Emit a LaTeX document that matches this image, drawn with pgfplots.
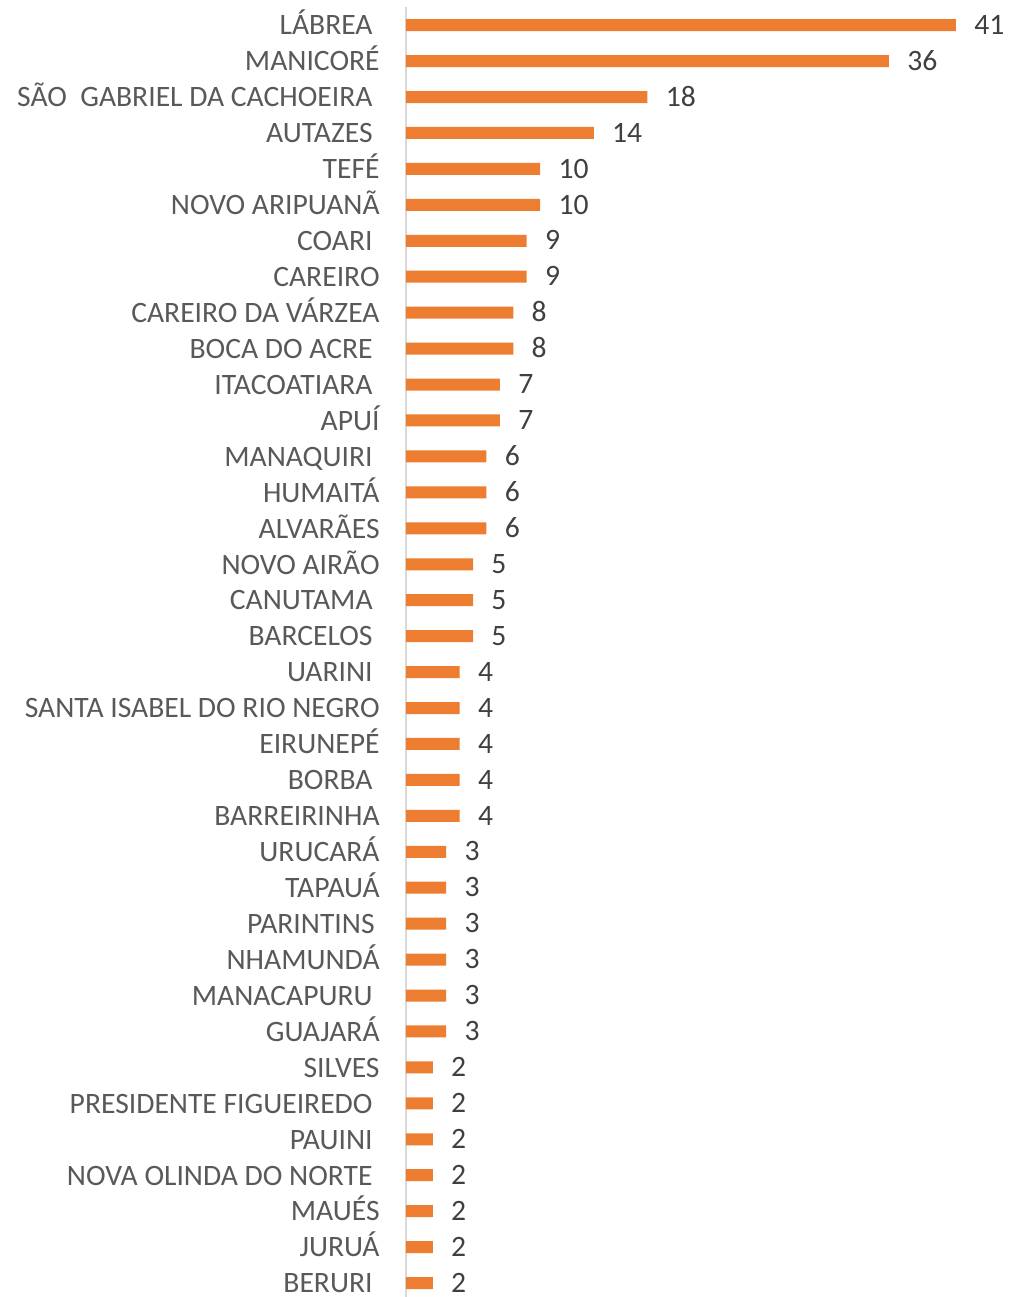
\documentclass[border=0pt]{standalone}
\usepackage{fontspec}
\setmainfont{Carlito}
\usepackage{pgfplots}
\pgfplotsset{compat=1.18}
\definecolor{barorange}{HTML}{ED7D31}
\definecolor{labgray}{HTML}{595959}
\definecolor{valgray}{HTML}{404040}
\definecolor{axgray}{HTML}{D9D9D9}
\newcommand{\tsp}{\hspace*{3.5pt}}
\begin{document}
\begin{tikzpicture}
\begin{axis}[
  scale only axis,
  width=275pt, height=646.9pt,
  xbar, bar width=6pt,
  xmin=0, xmax=41,
  ymin=-0.5, ymax=35.5,
  axis x line=none,
  axis y line=left,
  y axis line style={axgray, line width=0.75pt, -},
  major tick length=0pt,
  ytick={0,...,35},
  yticklabels={BERURI\tsp, JURUÁ, MAUÉS, NOVA OLINDA DO NORTE\tsp, PAUINI\tsp,
    PRESIDENTE FIGUEIREDO\tsp, SILVES, GUAJARÁ, MANACAPURU\tsp, NHAMUNDÁ,
    PARINTINS\hspace*{2.5pt}, TAPAUÁ, URUCARÁ, BARREIRINHA, BORBA\tsp, EIRUNEPÉ,
    SANTA ISABEL DO RIO NEGRO, UARINI\tsp, BARCELOS\tsp, CANUTAMA\tsp, NOVO AIRÃO,
    ALVARÃES, HUMAITÁ, MANAQUIRI\tsp, APUÍ, ITACOATIARA\tsp, BOCA DO ACRE\tsp,
    CAREIRO DA VÁRZEA, CAREIRO, COARI\tsp, NOVO ARIPUANÃ, TEFÉ, AUTAZES\tsp,
    SÃO\ \ GABRIEL DA CACHOEIRA\tsp, MANICORÉ, LÁBREA\tsp},
  yticklabel style={font=\fontsize{14.8}{17}\selectfont, text=labgray,
    anchor=base east, inner sep=0pt, xshift=-13pt, yshift=-4.9pt},
  nodes near coords,
  every node near coord/.append style={font=\fontsize{14.8}{17}\selectfont,
    text=valgray, anchor=base west, inner sep=0pt, xshift=9pt, yshift=-4.6pt},
  /pgf/number format/assume math mode=true,
  clip=false,
]
\addplot[fill=barorange, draw=none] coordinates {
  (2,0) (2,1) (2,2) (2,3) (2,4) (2,5) (2,6)
  (3,7) (3,8) (3,9) (3,10) (3,11) (3,12)
  (4,13) (4,14) (4,15) (4,16) (4,17)
  (5,18) (5,19) (5,20)
  (6,21) (6,22) (6,23)
  (7,24) (7,25)
  (8,26) (8,27)
  (9,28) (9,29)
  (10,30) (10,31)
  (14,32) (18,33) (36,34) (41,35)
};
\end{axis}
\pgfresetboundingbox
\useasboundingbox (-203pt,2pt) rectangle (301pt,650.5pt);
\end{tikzpicture}
\end{document}
